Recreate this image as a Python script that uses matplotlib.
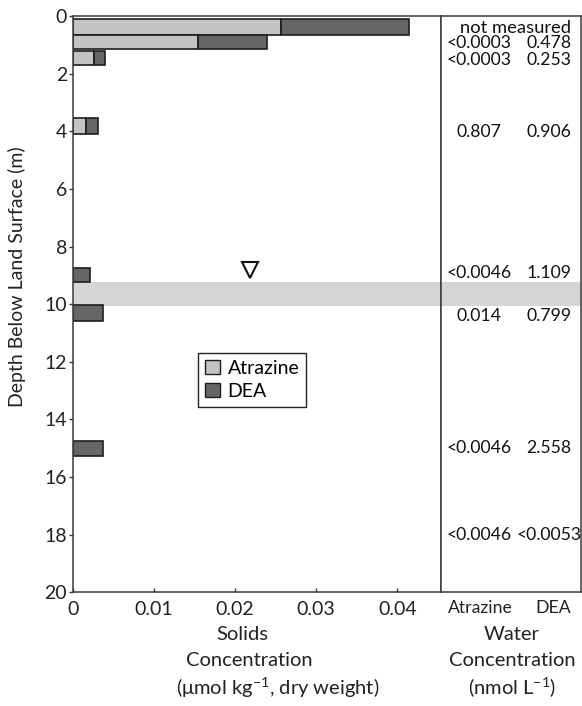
import matplotlib
matplotlib.use("Agg")
import matplotlib.pyplot as plt
from matplotlib.patches import Patch

plt.rcParams['font.family'] = ['Lato', 'DejaVu Sans']
plt.rcParams['mathtext.fontset'] = 'custom'
plt.rcParams['mathtext.rm'] = 'Lato'

# ---- data ----
depth_top = [0.12, 0.65, 1.20, 3.55, 8.73, 10.03, 14.74]
depth_bottom = [0.65, 1.16, 1.70, 4.10, 9.24, 10.58, 15.27]
atrazine_solids = [0.0257, 0.0154, 0.00257, 0.00167, 0.0, 0.0, 0.0]
dea_solids = [0.0157, 0.0086, 0.00144, 0.0014, 0.00208, 0.00373, 0.00373]

water_table_depth = 8.82
water_table_x = 0.0219
band_top, band_bottom = 9.22, 10.07

water_depths = [0.43, 0.95, 1.53, 4.02, 8.92, 10.41, 15.0, 18.01]
water_atrazine = ["", "<0.0003", "<0.0003", "0.807", "<0.0046", "0.014", "<0.0046", "<0.0046"]
water_dea = ["", "0.478", "0.253", "0.906", "1.109", "0.799", "2.558", "<0.0053"]
not_measured_label = "not measured"

xticks = [0, 0.01, 0.02, 0.03, 0.04]
xticklabels = ["0", "0.01", "0.02", "0.03", "0.04"]
yticks = [0, 2, 4, 6, 8, 10, 12, 14, 16, 18, 20]

C_ATR = "#c3c3c3"
C_DEA = "#666666"
C_EDGE = "#1e1e1e"
C_FRAME = "#3a3a3a"
FS_NUM = 12.7
FS_TICK = 14
FS_LAB = 14.5

W, H = 582, 706
fig = plt.figure(figsize=(W / 100, H / 100), dpi=100)

top_px, bot_px = 16, 592.3
left_px, div_px, right_px = 72.7, 440.7, 581.0
ax = fig.add_axes([left_px / W, 1 - bot_px / H, (div_px - left_px) / W, (bot_px - top_px) / H])
ax2 = fig.add_axes([div_px / W, 1 - bot_px / H, (right_px - div_px) / W, (bot_px - top_px) / H])

ax.set_ylim(20, 0)
ax.set_xlim(0, 0.04535)
ax2.set_ylim(20, 0)
ax2.set_xlim(0, 1)

# band (water table zone)
for a in (ax, ax2):
    a.axhspan(band_top, band_bottom, color="#d5d5d5", lw=0, zorder=0)

heights = [b - t for t, b in zip(depth_top, depth_bottom)]
centers = [(t + b) / 2 for t, b in zip(depth_top, depth_bottom)]
for c, h, a, d in zip(centers, heights, atrazine_solids, dea_solids):
    if a > 0:
        ax.barh(c, a, height=h, left=0, color=C_ATR, edgecolor=C_EDGE, linewidth=1.2, zorder=2)
    ax.barh(c, d, height=h, left=a, color=C_DEA, edgecolor=C_EDGE, linewidth=1.2, zorder=2)

ax.plot([water_table_x], [water_table_depth], marker="v", ms=12, mfc="white",
        mec="#111111", mew=1.5, ls="none", zorder=3)

ax.set_xticks(xticks)
ax.set_xticklabels(xticklabels, fontsize=FS_TICK, color="#222222")
ax.set_yticks(yticks)
ax.set_yticklabels([str(v) for v in yticks], fontsize=FS_TICK, color="#222222")
ax.tick_params(axis="y", direction="out", length=3, width=1, color=C_FRAME, pad=1)
ax.tick_params(axis="x", direction="in", length=3, width=1, color=C_FRAME, pad=6)
for a in (ax, ax2):
    for s in a.spines.values():
        s.set_color(C_FRAME)
        s.set_linewidth(1.1)
ax2.set_xticks([])
ax2.set_yticks([])

# water concentration text
col_a, col_d = 0.273, 0.772
ax2.text(0.53, water_depths[0], not_measured_label, ha="center", va="center", fontsize=FS_NUM + 0.5, color="#111111")
for yv, ta, td in zip(water_depths[1:], water_atrazine[1:], water_dea[1:]):
    ax2.text(col_a, yv, ta, ha="center", va="center", fontsize=FS_NUM, color="#111111")
    ax2.text(col_d, yv, td, ha="center", va="center", fontsize=FS_NUM, color="#111111")

# legend
handles = [Patch(facecolor=C_ATR, edgecolor=C_EDGE, linewidth=1.0, label="Atrazine"),
           Patch(facecolor=C_DEA, edgecolor=C_EDGE, linewidth=1.0, label="DEA")]
leg = ax.legend(handles=handles, loc="upper left",
                bbox_to_anchor=((198.3 - left_px) / (div_px - left_px), 1 - (353.3 - top_px) / (bot_px - top_px)),
                borderaxespad=0, fontsize=14, handlelength=0.75, handleheight=0.75,
                handletextpad=0.4, labelspacing=0.3, borderpad=0.35, fancybox=False,
                framealpha=1, edgecolor="#222222")
leg.get_frame().set_linewidth(1.0)

# column headers and axis labels
def fx(px):
    return px / W

def fy(px):
    return 1 - px / H

fig.text(fx(480), fy(608), "Atrazine", ha="center", va="center", fontsize=FS_NUM, color="#222222")
fig.text(fx(553), fy(608), "DEA", ha="center", va="center", fontsize=FS_NUM, color="#222222")

fig.text(fx(242), fy(634), "Solids", ha="center", va="center", fontsize=FS_LAB, color="#222222")
fig.text(fx(249), fy(661), "Concentration", ha="center", va="center", fontsize=FS_LAB, color="#222222")
fig.text(fx(278), fy(688), "(\u03bcmol kg$^{\\mathregular{-1}}$, dry weight)", ha="center", va="center", fontsize=FS_LAB, color="#222222")

fig.text(fx(512), fy(634), "Water", ha="center", va="center", fontsize=FS_LAB, color="#222222")
fig.text(fx(512), fy(661), "Concentration", ha="center", va="center", fontsize=FS_LAB, color="#222222")
fig.text(fx(512), fy(688), "(nmol L$^{\\mathregular{-1}}$)", ha="center", va="center", fontsize=FS_LAB, color="#222222")

fig.text(fx(17), fy(277), "Depth Below Land Surface (m)", rotation=90, ha="center", va="center",
         fontsize=FS_TICK, color="#222222")

fig.savefig("out.png", dpi=100)
